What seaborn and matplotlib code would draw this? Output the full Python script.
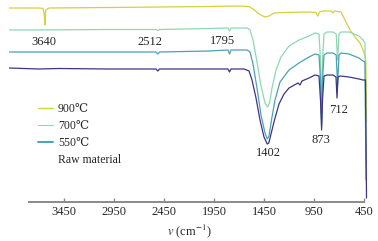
import numpy as np
import pandas as pd
import seaborn as sns
import matplotlib.pyplot as plt

# wavenumbers (cm-1) and transmittance (a.u., stacked)
wn_900 = [4000, 3700, 3660, 3648, 3641, 3634, 3600, 3000, 2500, 2000, 1700, 1600,
          1560, 1500, 1440, 1400, 1350, 1250, 1000, 930, 912, 895, 860, 780, 760,
          748, 680, 640, 590, 540, 490, 460, 440, 432, 425]
t_900 = [194, 194, 193.5, 188, 177, 192, 194, 194.5, 195, 195.5, 196, 195.5,
         193, 188, 185, 186, 189, 189.5, 190, 189.5, 186, 190, 191, 191, 189,
         191, 190, 182, 172, 165, 159, 152, 146, 142, 80]

wn_700 = [4000, 3700, 3000, 2530, 2512, 2495, 2000, 1810, 1795, 1780, 1620, 1590,
          1560, 1520, 1480, 1440, 1415, 1395, 1370, 1330, 1280, 1200, 1100, 1000,
          940, 900, 885, 874, 865, 850, 820, 760, 728, 714, 700, 680, 600, 500,
          460, 440, 430]
t_700 = [172, 172, 172.5, 172.5, 171.5, 172.5, 173.5, 174, 171, 174, 174, 172,
         162, 140, 116, 99, 95, 99, 114, 132, 145, 156, 162, 166,
         169, 168, 142, 82, 142, 168, 170, 170, 168, 142, 168, 170, 170, 166,
         162, 159, 37]

wn_550 = [4000, 3700, 3000, 2530, 2512, 2495, 2000, 1810, 1795, 1780, 1620, 1590,
          1560, 1520, 1480, 1440, 1418, 1400, 1375, 1340, 1290, 1200, 1100, 1000,
          940, 900, 885, 874, 865, 850, 820, 760, 728, 714, 700, 680, 600, 500,
          460, 440, 430]
t_550 = [150, 150, 150, 150, 148, 150, 151, 152, 148, 152, 152, 150,
         138, 114, 87, 69, 63, 66, 82, 102, 120, 132, 139, 145,
         148, 147, 122, 77, 122, 147, 149, 149, 147, 117, 147, 149, 148, 144,
         141, 140, 22]

wn_raw = [4000, 3700, 3500, 3000, 2530, 2512, 2495, 2000, 1810, 1795, 1780, 1650,
          1600, 1570, 1530, 1490, 1450, 1418, 1402, 1375, 1345, 1300, 1250, 1200,
          1110, 1090, 1070, 1000, 940, 900, 885, 874, 865, 850, 820, 760, 730,
          720, 710, 690, 600, 500, 460, 435, 425]
t_raw = [134, 133, 133.5, 133, 133, 131, 133, 133, 133, 130, 133, 133,
         131, 122, 104, 82, 65, 58, 59, 70, 82, 98, 108, 114,
         119, 117, 121, 124, 127, 126, 102, 72, 102, 126, 127, 127, 125,
         104, 125, 126, 125, 123, 122, 122, 4]

series = ['900℃', '700℃', '550℃', 'Raw material']
colors = ['#d6d03c', '#8fd8b2', '#4aa2b4', '#3d3487']

peak_labels = ['3640', '2512', '1795', '1402', '873', '712']
peak_x = [3655, 2590, 1870, 1410, 880, 700]
peak_y = [160, 160, 161, 49, 62, 92]

frames = []
for name, w, t in zip(series, [wn_900, wn_700, wn_550, wn_raw],
                      [t_900, t_700, t_550, t_raw]):
    frames.append(pd.DataFrame({'wn': w, 'T': t, 'sample': name}))
df = pd.concat(frames, ignore_index=True)

sns.set_theme(style='white')
plt.rcParams['font.family'] = ['Liberation Serif', 'DejaVu Serif']
plt.rcParams['mathtext.fontset'] = 'stix'

fig = plt.figure(figsize=(3.78, 2.41), dpi=100)
ax = fig.add_axes([9 / 378, 39 / 241, 360 / 378, 202 / 241])

sns.lineplot(data=df, x='wn', y='T', hue='sample', hue_order=series,
             palette=colors, linewidth=0.9, estimator=None, ax=ax,
             legend=False)

ax.set_xlim(4000, 400)
ax.set_ylim(0, 202)
ax.set_xticks([3450, 2950, 2450, 1950, 1450, 950, 450])
ax.set_yticks([])
ax.set_xlabel('$v$ (cm$^{-1}$)', fontsize=9, labelpad=3)
ax.set_ylabel('')
for s in ['top', 'left', 'right']:
    ax.spines[s].set_visible(False)
ax.spines['bottom'].set_color('#8a8a8a')
ax.spines['bottom'].set_linewidth(1.4)
ax.spines['bottom'].set_bounds(3800, 450)
ax.tick_params(axis='x', direction='in', length=3, width=1, color='#8a8a8a',
               labelsize=9, pad=3, bottom=True)

for lab, x, y in zip(peak_labels, peak_x, peak_y):
    ax.text(x, y, lab, fontsize=9, ha='center', va='center')

handles = []
for c, lw in zip(colors, [1.0, 0.8, 1.4, 1.0]):
    h, = ax.plot([], [], color=c, linewidth=lw)
    handles.append(h)
leg = ax.legend(handles, series, loc='upper left', bbox_to_anchor=(0.08, 0.49),
                frameon=False, fontsize=8.5, handlelength=1.3, handletextpad=0.4,
                labelspacing=0.42, borderpad=0, borderaxespad=0)
leg.legend_handles[3].set_visible(False)

fig.savefig('out.png', dpi=100)
